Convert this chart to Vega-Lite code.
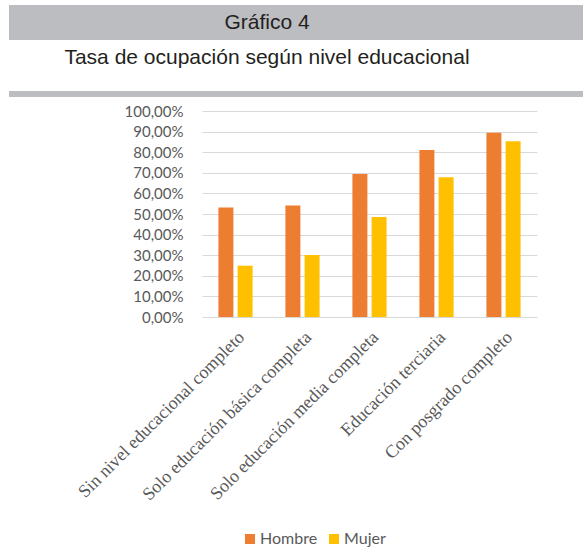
{
  "$schema": "https://vega.github.io/schema/vega-lite/v6.json",
  "padding": {"left": 9, "top": 5, "right": 0, "bottom": 0},
  "background": "white",
  "config": {"view": {"stroke": null}},
  "columns": 1,
  "spacing": 5,
  "concat": [
    {
      "columns": 1,
      "spacing": 0,
      "concat": [
        {
          "width": 574,
          "height": 35,
          "view": {"fill": "#BCBDC0", "stroke": null},
          "data": {"values": [{"t": "Gráfico 4"}]},
          "mark": {"type": "text", "font": "Liberation Sans", "fontSize": 21, "color": "#231F20", "dx": -29, "baseline": "middle"},
          "encoding": {"text": {"field": "t"}}
        },
        {
          "width": 574,
          "height": 48,
          "data": {"values": [{"t": "Tasa de ocupación según nivel educacional"}]},
          "mark": {"type": "text", "font": "Liberation Sans", "fontSize": 21, "color": "#231F20", "dx": -29, "dy": -6, "baseline": "middle"},
          "encoding": {"text": {"field": "t"}}
        },
        {
          "width": 574,
          "height": 6,
          "view": {"fill": "#BCBDC0", "stroke": null},
          "data": {"values": [{"t": ""}]},
          "mark": {"type": "text"},
          "encoding": {"text": {"field": "t"}}
        }
      ]
    },
    {
      "width": 574,
      "height": 206,
      "data": {
        "values": [
          {"nivel": "Sin nivel educacional completo", "sexo": "Hombre", "tasa": 0.531},
          {"nivel": "Sin nivel educacional completo", "sexo": "Mujer", "tasa": 0.249},
          {"nivel": "Solo educación básica completa", "sexo": "Hombre", "tasa": 0.541},
          {"nivel": "Solo educación básica completa", "sexo": "Mujer", "tasa": 0.301},
          {"nivel": "Solo educación media completa", "sexo": "Hombre", "tasa": 0.694},
          {"nivel": "Solo educación media completa", "sexo": "Mujer", "tasa": 0.485},
          {"nivel": "Educación terciaria", "sexo": "Hombre", "tasa": 0.811},
          {"nivel": "Educación terciaria", "sexo": "Mujer", "tasa": 0.679},
          {"nivel": "Con posgrado completo", "sexo": "Hombre", "tasa": 0.894},
          {"nivel": "Con posgrado completo", "sexo": "Mujer", "tasa": 0.853}
        ]
      },
      "mark": {"type": "bar"},
      "encoding": {
        "x": {
          "field": "nivel",
          "type": "nominal",
          "sort": null,
          "scale": {"range": [193, 528], "paddingInner": 0.49, "paddingOuter": 0.245},
          "axis": {
            "title": null,
            "labelAngle": -45,
            "labelAlign": "right",
            "labelBaseline": "top",
            "labelPadding": 11,
            "labelOffset": 0,
            "labelFont": "Liberation Serif",
            "labelFontSize": 18,
            "labelColor": "#595959",
            "labelLimit": 400,
            "ticks": false,
            "domain": false
          }
        },
        "xOffset": {
          "field": "sexo",
          "type": "nominal",
          "sort": ["Hombre", "Mujer"],
          "scale": {"paddingInner": 0.22, "paddingOuter": 0}
        },
        "y": {
          "field": "tasa",
          "type": "quantitative",
          "scale": {"domain": [0, 1]},
          "axis": {
            "title": null,
            "offset": -193,
            "values": [0, 0.1, 0.2, 0.3, 0.4, 0.5, 0.6, 0.7, 0.8, 0.9, 1],
            "labelExpr": "replace(format(datum.value, '.2%'), '.', ',')",
            "labelFont": "Lato",
            "labelFontSize": 15,
            "labelColor": "#595959",
            "labelPadding": 19,
            "ticks": false,
            "domain": false,
            "gridColor": "#D9D9D9",
            "gridWidth": 1
          }
        },
        "color": {
          "field": "sexo",
          "type": "nominal",
          "sort": ["Hombre", "Mujer"],
          "scale": {"domain": ["Hombre", "Mujer"], "range": ["#ED7D31", "#FFC000"]},
          "legend": {
            "title": null,
            "orient": "none",
            "direction": "horizontal",
            "legendX": 233,
            "legendY": 526,
            "padding": 0,
            "symbolType": "square",
            "symbolSize": 100,
            "symbolStrokeWidth": 0,
            "labelFont": "Lato",
            "labelFontSize": 16,
            "labelColor": "#595959",
            "labelOffset": 2,
            "columnPadding": 8
          }
        }
      }
    }
  ]
}
